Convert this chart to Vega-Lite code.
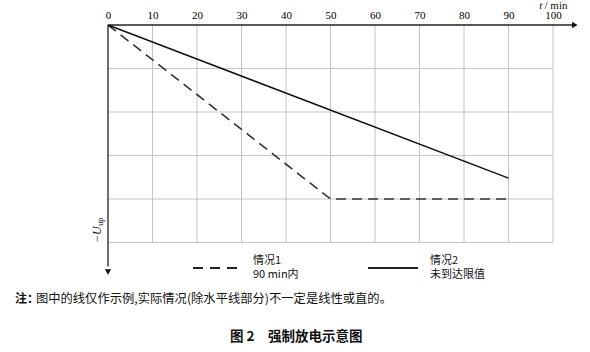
{
  "$schema": "https://vega.github.io/schema/vega-lite/v6.json",
  "width": 590,
  "height": 352,
  "autosize": "none",
  "padding": 0,
  "background": "white",
  "config": {"view": {"stroke": null}},
  "datasets": {
    "vgrid": [
      {"x": 10, "y": 0, "y2": -5}, {"x": 20, "y": 0, "y2": -5}, {"x": 30, "y": 0, "y2": -5},
      {"x": 40, "y": 0, "y2": -5}, {"x": 50, "y": 0, "y2": -5}, {"x": 60, "y": 0, "y2": -5},
      {"x": 70, "y": 0, "y2": -5}, {"x": 80, "y": 0, "y2": -5}, {"x": 90, "y": 0, "y2": -5},
      {"x": 100, "y": 0, "y2": -5}
    ],
    "hgrid": [
      {"y": -1, "x": 0, "x2": 100}, {"y": -2, "x": 0, "x2": 100}, {"y": -3, "x": 0, "x2": 100},
      {"y": -4, "x": 0, "x2": 100}, {"y": -5, "x": 0, "x2": 100}
    ],
    "case1": [{"t": 0, "u": 0}, {"t": 50, "u": -4}, {"t": 90, "u": -4}],
    "case2": [{"t": 0, "u": 0}, {"t": 90, "u": -3.52}],
    "xaxis": [{"x": 0, "x2": 104.6, "y": 0}],
    "yaxis": [{"x": 0, "y": 0, "y2": -5.55}],
    "arrowx": [{"x": 104.9, "y": 0}],
    "arrowy": [{"x": 0, "y": -5.68}],
    "legdash": [{"x": 19.1, "x2": 29.66, "y": -5.586}],
    "legsolid": [{"x": 58.43, "x2": 69.66, "y": -5.586}],
    "legtext": [
      {"x": 32.58, "y": -5.425, "label": "情况1"},
      {"x": 32.58, "y": -5.747, "label": "90 min内"},
      {"x": 72.36, "y": -5.425, "label": "情况2"},
      {"x": 72.36, "y": -5.747, "label": "未到达限值"}
    ],
    "tunit": [{"x": 96.9, "y": 0.44, "label": "t"}],
    "unit": [{"x": 98.1, "y": 0.44, "label": "/ min"}],
    "ylab": [{"x": -2.4, "y": -4.82, "label": "−U"}],
    "ysub": [{"x": -1.55, "y": -4.52, "label": "up"}],
    "notehead": [{"x": -20.9, "y": -6.3, "label": "注："}],
    "note": [{"x": -16.2, "y": -6.3, "label": "图中的线仅作示例,实际情况(除水平线部分)不一定是线性或直的。"}],
    "title": [{"x": 27.4, "y": -7.17, "label": "图 2　强制放电示意图"}]
  },
  "layer": [
    {
      "data": {"name": "vgrid"},
      "mark": {"type": "rule", "color": "#c4c4c4", "strokeWidth": 1},
      "encoding": {
        "x": {"field": "x", "type": "quantitative",
              "scale": {"domain": [-24.27, 108.31], "nice": false, "zero": false},
              "axis": {"orient": "top", "offset": -25, "values": [0,10,20,30,40,50,60,70,80,90,100],
                       "domain": false, "ticks": false, "grid": false, "title": null,
                       "labelFont": "Liberation Serif", "labelFontSize": 11, "labelColor": "#000",
                       "labelPadding": 5, "labelFlush": false}},
        "y": {"field": "y", "type": "quantitative",
              "scale": {"domain": [-7.517, 0.575], "nice": false, "zero": false}, "axis": null},
        "y2": {"field": "y2"}
      }
    },
    {
      "data": {"name": "hgrid"},
      "mark": {"type": "rule", "color": "#c4c4c4", "strokeWidth": 1},
      "encoding": {
        "x": {"field": "x", "type": "quantitative"},
        "x2": {"field": "x2"},
        "y": {"field": "y", "type": "quantitative"}
      }
    },
    {
      "data": {"name": "xaxis"},
      "mark": {"type": "rule", "color": "#222", "strokeWidth": 1.3},
      "encoding": {
        "x": {"field": "x", "type": "quantitative"},
        "x2": {"field": "x2"},
        "y": {"field": "y", "type": "quantitative"}
      }
    },
    {
      "data": {"name": "yaxis"},
      "mark": {"type": "rule", "color": "#222", "strokeWidth": 1.3},
      "encoding": {
        "x": {"field": "x", "type": "quantitative"},
        "y": {"field": "y", "type": "quantitative"},
        "y2": {"field": "y2"}
      }
    },
    {
      "data": {"name": "arrowx"},
      "mark": {"type": "point", "shape": "triangle-right", "filled": true, "color": "#111", "size": 40, "opacity": 1},
      "encoding": {
        "x": {"field": "x", "type": "quantitative"},
        "y": {"field": "y", "type": "quantitative"}
      }
    },
    {
      "data": {"name": "arrowy"},
      "mark": {"type": "point", "shape": "triangle-down", "filled": true, "color": "#111", "size": 40, "opacity": 1},
      "encoding": {
        "x": {"field": "x", "type": "quantitative"},
        "y": {"field": "y", "type": "quantitative"}
      }
    },
    {
      "data": {"name": "case1"},
      "mark": {"type": "line", "color": "#333", "strokeWidth": 1.6, "strokeDash": [10, 6]},
      "encoding": {
        "x": {"field": "t", "type": "quantitative"},
        "y": {"field": "u", "type": "quantitative"}
      }
    },
    {
      "data": {"name": "case2"},
      "mark": {"type": "line", "color": "#111", "strokeWidth": 1.5},
      "encoding": {
        "x": {"field": "t", "type": "quantitative"},
        "y": {"field": "u", "type": "quantitative"}
      }
    },
    {
      "data": {"name": "legdash"},
      "mark": {"type": "rule", "color": "#222", "strokeWidth": 1.8, "strokeDash": [10, 7]},
      "encoding": {
        "x": {"field": "x", "type": "quantitative"},
        "x2": {"field": "x2"},
        "y": {"field": "y", "type": "quantitative"}
      }
    },
    {
      "data": {"name": "legsolid"},
      "mark": {"type": "rule", "color": "#222", "strokeWidth": 1.8},
      "encoding": {
        "x": {"field": "x", "type": "quantitative"},
        "x2": {"field": "x2"},
        "y": {"field": "y", "type": "quantitative"}
      }
    },
    {
      "data": {"name": "legtext"},
      "mark": {"type": "text", "align": "left", "baseline": "middle", "font": "Noto Sans CJK SC", "fontSize": 11, "color": "#111"},
      "encoding": {
        "x": {"field": "x", "type": "quantitative"},
        "y": {"field": "y", "type": "quantitative"},
        "text": {"field": "label"}
      }
    },
    {
      "data": {"name": "tunit"},
      "mark": {"type": "text", "align": "left", "baseline": "middle", "font": "Liberation Serif", "fontStyle": "italic", "fontSize": 11, "color": "#111"},
      "encoding": {
        "x": {"field": "x", "type": "quantitative"},
        "y": {"field": "y", "type": "quantitative"},
        "text": {"field": "label"}
      }
    },
    {
      "data": {"name": "unit"},
      "mark": {"type": "text", "align": "left", "baseline": "middle", "font": "Liberation Serif", "fontSize": 11, "color": "#111"},
      "encoding": {
        "x": {"field": "x", "type": "quantitative"},
        "y": {"field": "y", "type": "quantitative"},
        "text": {"field": "label"}
      }
    },
    {
      "data": {"name": "ylab"},
      "mark": {"type": "text", "align": "center", "baseline": "middle", "angle": 270, "font": "Liberation Serif", "fontStyle": "italic", "fontSize": 12, "color": "#111"},
      "encoding": {
        "x": {"field": "x", "type": "quantitative"},
        "y": {"field": "y", "type": "quantitative"},
        "text": {"field": "label"}
      }
    },
    {
      "data": {"name": "ysub"},
      "mark": {"type": "text", "align": "center", "baseline": "middle", "angle": 270, "font": "Liberation Serif", "fontSize": 8, "color": "#111"},
      "encoding": {
        "x": {"field": "x", "type": "quantitative"},
        "y": {"field": "y", "type": "quantitative"},
        "text": {"field": "label"}
      }
    },
    {
      "data": {"name": "notehead"},
      "mark": {"type": "text", "align": "left", "baseline": "middle", "font": "Noto Sans CJK SC", "fontWeight": "bold", "fontSize": 12, "color": "#111"},
      "encoding": {
        "x": {"field": "x", "type": "quantitative"},
        "y": {"field": "y", "type": "quantitative"},
        "text": {"field": "label"}
      }
    },
    {
      "data": {"name": "note"},
      "mark": {"type": "text", "align": "left", "baseline": "middle", "font": "Noto Sans CJK SC", "fontSize": 12.3, "color": "#111"},
      "encoding": {
        "x": {"field": "x", "type": "quantitative"},
        "y": {"field": "y", "type": "quantitative"},
        "text": {"field": "label"}
      }
    },
    {
      "data": {"name": "title"},
      "mark": {"type": "text", "align": "left", "baseline": "middle", "font": "Noto Sans CJK SC", "fontWeight": "bold", "fontSize": 13.5, "color": "#111"},
      "encoding": {
        "x": {"field": "x", "type": "quantitative"},
        "y": {"field": "y", "type": "quantitative"},
        "text": {"field": "label"}
      }
    }
  ]
}
